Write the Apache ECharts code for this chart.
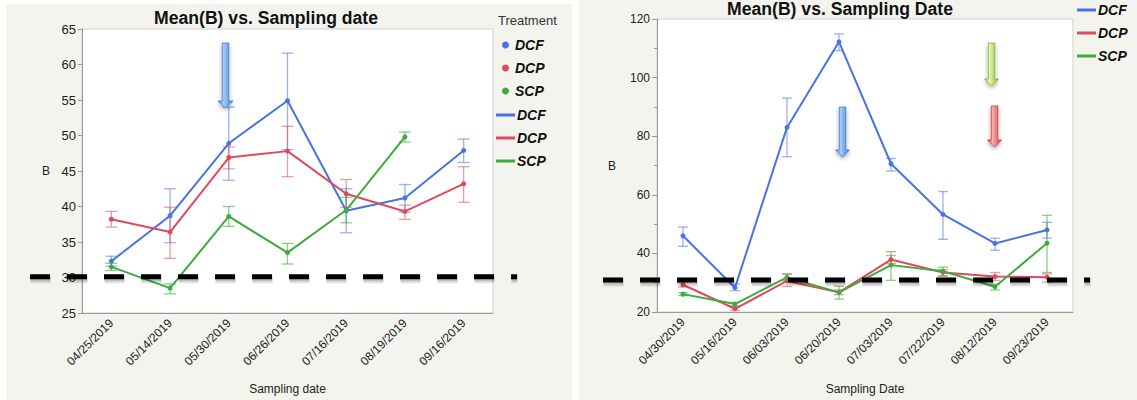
<!DOCTYPE html>
<html><head><meta charset="utf-8">
<script src="https://cdn.jsdelivr.net/npm/echarts@6/dist/echarts.min.js"></script>
<style>html,body{margin:0;padding:0;background:#fff;}#c{width:1137px;height:400px;}</style>
</head><body><div id="c"></div>
<script>
const leftDates = ['04/25/2019','05/14/2019','05/30/2019','06/26/2019','07/16/2019','08/19/2019','09/16/2019'];
const leftDCF = [32.3, 38.7, 48.9, 54.9, 39.4, 41.2, 47.9];
const leftDCFLow = [31.6, 34.9, 43.7, 48.0, 36.3, 39.2, 46.2];
const leftDCFHigh = [33.0, 42.5, 54.0, 61.6, 42.5, 43.1, 49.5];
const leftDCP = [38.2, 36.4, 46.9, 47.8, 41.8, 39.3, 43.2];
const leftDCPLow = [37.1, 32.7, 45.3, 44.2, 39.9, 38.2, 40.6];
const leftDCPHigh = [39.3, 39.9, 48.4, 51.3, 43.8, 40.2, 45.6];
const leftSCP = [31.5, 28.5, 38.6, 33.5, 39.5, 49.8, null];
const leftSCPLow = [31.0, 27.7, 37.2, 31.9, 37.7, 49.1, null];
const leftSCPHigh = [32.0, 29.1, 40.0, 34.8, 41.3, 50.5, null];

const rightDates = ['04/30/2019','05/16/2019','06/03/2019','06/20/2019','07/03/2019','07/22/2019','08/12/2019','09/23/2019'];
const rightDCF = [46.0, 28.3, 83.0, 112.2, 70.6, 53.3, 43.4, 48.0];
const rightDCFLow = [42.4, 27.3, 73.0, 109.2, 68.1, 44.8, 41.1, 45.2];
const rightDCFHigh = [49.0, 29.5, 93.0, 114.9, 72.4, 61.1, 45.2, 50.6];
const rightDCP = [29.3, 21.1, 30.6, 26.7, 37.9, 33.5, 32.1, 31.9];
const rightDCPLow = [28.5, 20.6, 28.7, 25.9, 36.5, 32.3, 30.8, 30.2];
const rightDCPHigh = [30.2, 21.8, 32.9, 27.5, 39.3, 34.5, 33.5, 33.0];
const rightSCP = [26.1, 22.7, 31.8, 26.7, 36.0, 33.9, 28.6, 43.5];
const rightSCPLow = [25.6, 22.1, 30.6, 24.4, 30.8, 32.3, 27.5, 33.5];
const rightSCPHigh = [26.6, 23.3, 33.0, 28.8, 40.6, 35.3, 29.5, 53.0];

const treatments = ['DCF', 'DCP', 'SCP'];
const thresholdLeft = 30.1;
const thresholdRight = 30.9;

const FONT = '"Liberation Sans", Arial, Helvetica, sans-serif';
const COLORS = {DCF: '#4873e2', DCP: '#de4a5c', SCP: '#3dac3d'};
const ERRC = {DCF: 'rgba(72,115,226,0.55)', DCP: 'rgba(222,74,92,0.55)', SCP: 'rgba(61,172,61,0.6)'};

function errData(lo, hi) {
  return lo.map((l, i) => (l == null ? [i, null, null] : [i, l, hi[i]]));
}
function errSeries(name, idx, lo, hi, capW) {
  return {
    type: 'custom', name: name + ' err', xAxisIndex: idx, yAxisIndex: idx,
    data: errData(lo, hi), encode: {x: 0, y: [1, 2]}, z: 1, silent: true,
    renderItem: function (params, api) {
      if (api.value(1) == null || isNaN(api.value(1))) return;
      const a = api.coord([api.value(0), api.value(1)]);
      const b = api.coord([api.value(0), api.value(2)]);
      const st = {stroke: ERRC[name], lineWidth: 1.3};
      return {type: 'group', children: [
        {type: 'line', shape: {x1: a[0], y1: a[1], x2: b[0], y2: b[1]}, style: st},
        {type: 'line', shape: {x1: a[0] - capW, y1: a[1], x2: a[0] + capW, y2: a[1]}, style: st},
        {type: 'line', shape: {x1: b[0] - capW, y1: b[1], x2: b[0] + capW, y2: b[1]}, style: st}
      ]};
    }
  };
}
function lineSeries(name, idx, vals) {
  return {
    type: 'line', name: name, xAxisIndex: idx, yAxisIndex: idx, data: vals,
    symbol: 'circle', symbolSize: 5, showSymbol: true, z: 3,
    lineStyle: {color: COLORS[name], width: 2}, itemStyle: {color: COLORS[name]},
    connectNulls: false
  };
}

const axisCommon = {
  axisLine: {show: true, lineStyle: {color: '#9a9a9a', width: 1}},
  axisLabel: {color: '#222', fontSize: 12, fontFamily: FONT},
  splitLine: {show: false}
};

const chart = echarts.init(document.getElementById('c'), null, {renderer: 'svg'});

const option = {
  backgroundColor: '#ffffff',
  animation: false,
  title: [
    {text: 'Mean(B) vs. Sampling date', left: 266, top: 9, textAlign: 'center', padding: 0,
     textStyle: {fontSize: 17.6, fontWeight: 'bold', color: '#111', fontFamily: FONT}},
    {text: 'Mean(B) vs. Sampling Date', left: 840, top: 0, textAlign: 'center', padding: 0,
     textStyle: {fontSize: 17.6, fontWeight: 'bold', color: '#111', fontFamily: FONT}},
    {text: 'Treatment', left: 498, top: 14, padding: 0,
     textStyle: {fontSize: 13, fontWeight: 'normal', color: '#333', fontFamily: FONT}}
  ],
  legend: [
    {orient: 'vertical', left: 502, top: 37, padding: 0, itemGap: 7, itemWidth: 11, itemHeight: 7,
     data: treatments.map(n => ({name: n, icon: 'circle'})), selectedMode: false,
     textStyle: {fontSize: 14, fontWeight: 'bold', fontStyle: 'italic', color: '#111', fontFamily: FONT, lineHeight: 16, padding: [0,0,0,-1]}},
    {orient: 'vertical', left: 496, top: 107, padding: 0, itemGap: 7, itemWidth: 19, itemHeight: 3,
     data: treatments.map(n => ({name: n, icon: 'rect'})), selectedMode: false,
     textStyle: {fontSize: 14, fontWeight: 'bold', fontStyle: 'italic', color: '#111', fontFamily: FONT, lineHeight: 16, padding: [0,0,0,-3]}},
    {orient: 'vertical', left: 1077, top: 2, padding: 0, itemGap: 7, itemWidth: 19, itemHeight: 3,
     data: treatments.map(n => ({name: n, icon: 'rect'})), selectedMode: false,
     textStyle: {fontSize: 14, fontWeight: 'bold', fontStyle: 'italic', color: '#111', fontFamily: FONT, lineHeight: 16, padding: [0,0,0,-3]}}
  ],
  grid: [
    {left: 82, top: 29, width: 411, height: 287, show: true, backgroundColor: '#fff', borderColor: '#cfcfcf', borderWidth: 1, containLabel: false},
    {left: 657, top: 19, width: 416, height: 294, show: true, backgroundColor: '#fff', borderColor: '#cfcfcf', borderWidth: 1, containLabel: false}
  ],
  xAxis: [
    Object.assign({}, axisCommon, {type: 'category', gridIndex: 0, data: leftDates, boundaryGap: true,
      axisTick: {show: false},
      axisLabel: Object.assign({}, axisCommon.axisLabel, {rotate: 45, margin: 8, interval: 0}),
      name: 'Sampling date', nameLocation: 'middle', nameGap: 70,
      nameTextStyle: {fontSize: 12, color: '#222', fontFamily: FONT}}),
    Object.assign({}, axisCommon, {type: 'category', gridIndex: 1, data: rightDates, boundaryGap: true,
      axisTick: {show: false},
      axisLabel: Object.assign({}, axisCommon.axisLabel, {rotate: 45, margin: 8, interval: 0}),
      name: 'Sampling Date', nameLocation: 'middle', nameGap: 71,
      nameTextStyle: {fontSize: 12, color: '#222', fontFamily: FONT}})
  ],
  yAxis: [
    Object.assign({}, axisCommon, {type: 'value', gridIndex: 0, min: 25, max: 65, interval: 5,
      axisTick: {show: true, length: 4, lineStyle: {color: '#9a9a9a'}},
      axisLabel: Object.assign({}, axisCommon.axisLabel, {margin: 6, fontSize: 13}),
      name: 'B', nameLocation: 'middle', nameRotate: 0, nameGap: 32,
      nameTextStyle: {fontSize: 12, color: '#222', fontFamily: FONT}}),
    Object.assign({}, axisCommon, {type: 'value', gridIndex: 1, min: 20, max: 120, interval: 20,
      axisTick: {show: true, length: 5, lineStyle: {color: '#9a9a9a'}},
      minorTick: {show: true, splitNumber: 2, length: 3, lineStyle: {color: '#9a9a9a'}},
      axisLabel: Object.assign({}, axisCommon.axisLabel, {margin: 7}),
      name: 'B', nameLocation: 'middle', nameRotate: 0, nameGap: 41,
      nameTextStyle: {fontSize: 12, color: '#222', fontFamily: FONT}})
  ],
  series: [
    errSeries('DCF', 0, leftDCFLow, leftDCFHigh, 6),
    errSeries('DCP', 0, leftDCPLow, leftDCPHigh, 6),
    errSeries('SCP', 0, leftSCPLow, leftSCPHigh, 6),
    lineSeries('DCF', 0, leftDCF),
    lineSeries('DCP', 0, leftDCP),
    lineSeries('SCP', 0, leftSCP),
    errSeries('DCF', 1, rightDCFLow, rightDCFHigh, 5),
    errSeries('DCP', 1, rightDCPLow, rightDCPHigh, 5),
    errSeries('SCP', 1, rightSCPLow, rightSCPHigh, 5),
    lineSeries('DCF', 1, rightDCF),
    lineSeries('DCP', 1, rightDCP),
    lineSeries('SCP', 1, rightSCP)
  ]
};
chart.setOption(option);

function arrow(id, cx, top, headStart, tip, shaftW, headW, c1, c2) {
  const hs = shaftW / 2, hh = headW / 2;
  return {
    type: 'polygon', id: id, z: 50,
    shape: {points: [[cx - hs, top], [cx + hs, top], [cx + hs, headStart], [cx + hh, headStart], [cx, tip], [cx - hh, headStart], [cx - hs, headStart]]},
    style: {
      fill: {type: 'linear', x: 0, y: 0, x2: 1, y2: 0, colorStops: [{offset: 0, color: c2}, {offset: 0.35, color: c1}, {offset: 1, color: c2}]},
      stroke: c2, lineWidth: 0.8,
      shadowBlur: 4, shadowColor: 'rgba(0,0,0,0.35)', shadowOffsetY: 2
    }
  };
}

function yPix(gridIndex, value) {
  const p = chart.convertToPixel({gridIndex: gridIndex}, [0, value]);
  return Array.isArray(p) ? p[1] : NaN;
}
const yL = yPix(0, thresholdLeft);
const yR = yPix(1, thresholdRight);

function dashLine(id, x1, x2, y) {
  return [
    {type: 'line', id: id + 's1', z: 59, silent: true,
     shape: {x1: x1 + 0.5, y1: y + 2, x2: x2 + 0.5, y2: y + 2},
     style: {stroke: 'rgba(0,0,0,0.12)', lineWidth: 9, lineDash: [20, 17], lineCap: 'butt'}},
    {type: 'line', id: id + 's2', z: 59, silent: true,
     shape: {x1: x1 + 0.5, y1: y + 1.5, x2: x2 + 0.5, y2: y + 1.5},
     style: {stroke: 'rgba(0,0,0,0.15)', lineWidth: 6, lineDash: [20, 17], lineCap: 'butt'}},
    {type: 'line', id: id, z: 60, silent: true,
     shape: {x1: x1, y1: y, x2: x2, y2: y},
     style: {stroke: '#000', lineWidth: 5, lineDash: [20, 17], lineCap: 'butt'}}
  ];
}

chart.setOption({
  graphic: [
    {type: 'rect', id: 'bgL', z: -10, silent: true, shape: {x: 6, y: 4, width: 566, height: 396}, style: {fill: '#f4f4ef'}},
    {type: 'rect', id: 'bgR', z: -10, silent: true, shape: {x: 579, y: 0, width: 558, height: 400}, style: {fill: '#f4f4ef'}}
  ].concat(dashLine('thL', 30, 517, yL), dashLine('thR', 603, 1090, yR), [
    arrow('aL', 225.5, 43, 101, 108, 6.5, 15, '#a9cdf5', '#3f7fd2'),
    arrow('aR1', 842.5, 107, 150, 157, 6.5, 14, '#a9cdf5', '#3f7fd2'),
    arrow('aR2', 991.5, 43, 79, 86, 6.5, 14, '#e6f5b0', '#86b83a'),
    arrow('aR3', 994.5, 106, 140, 147, 6.5, 14, '#f6b0b0', '#d23e3e')
  ])
});
</script></body></html>
